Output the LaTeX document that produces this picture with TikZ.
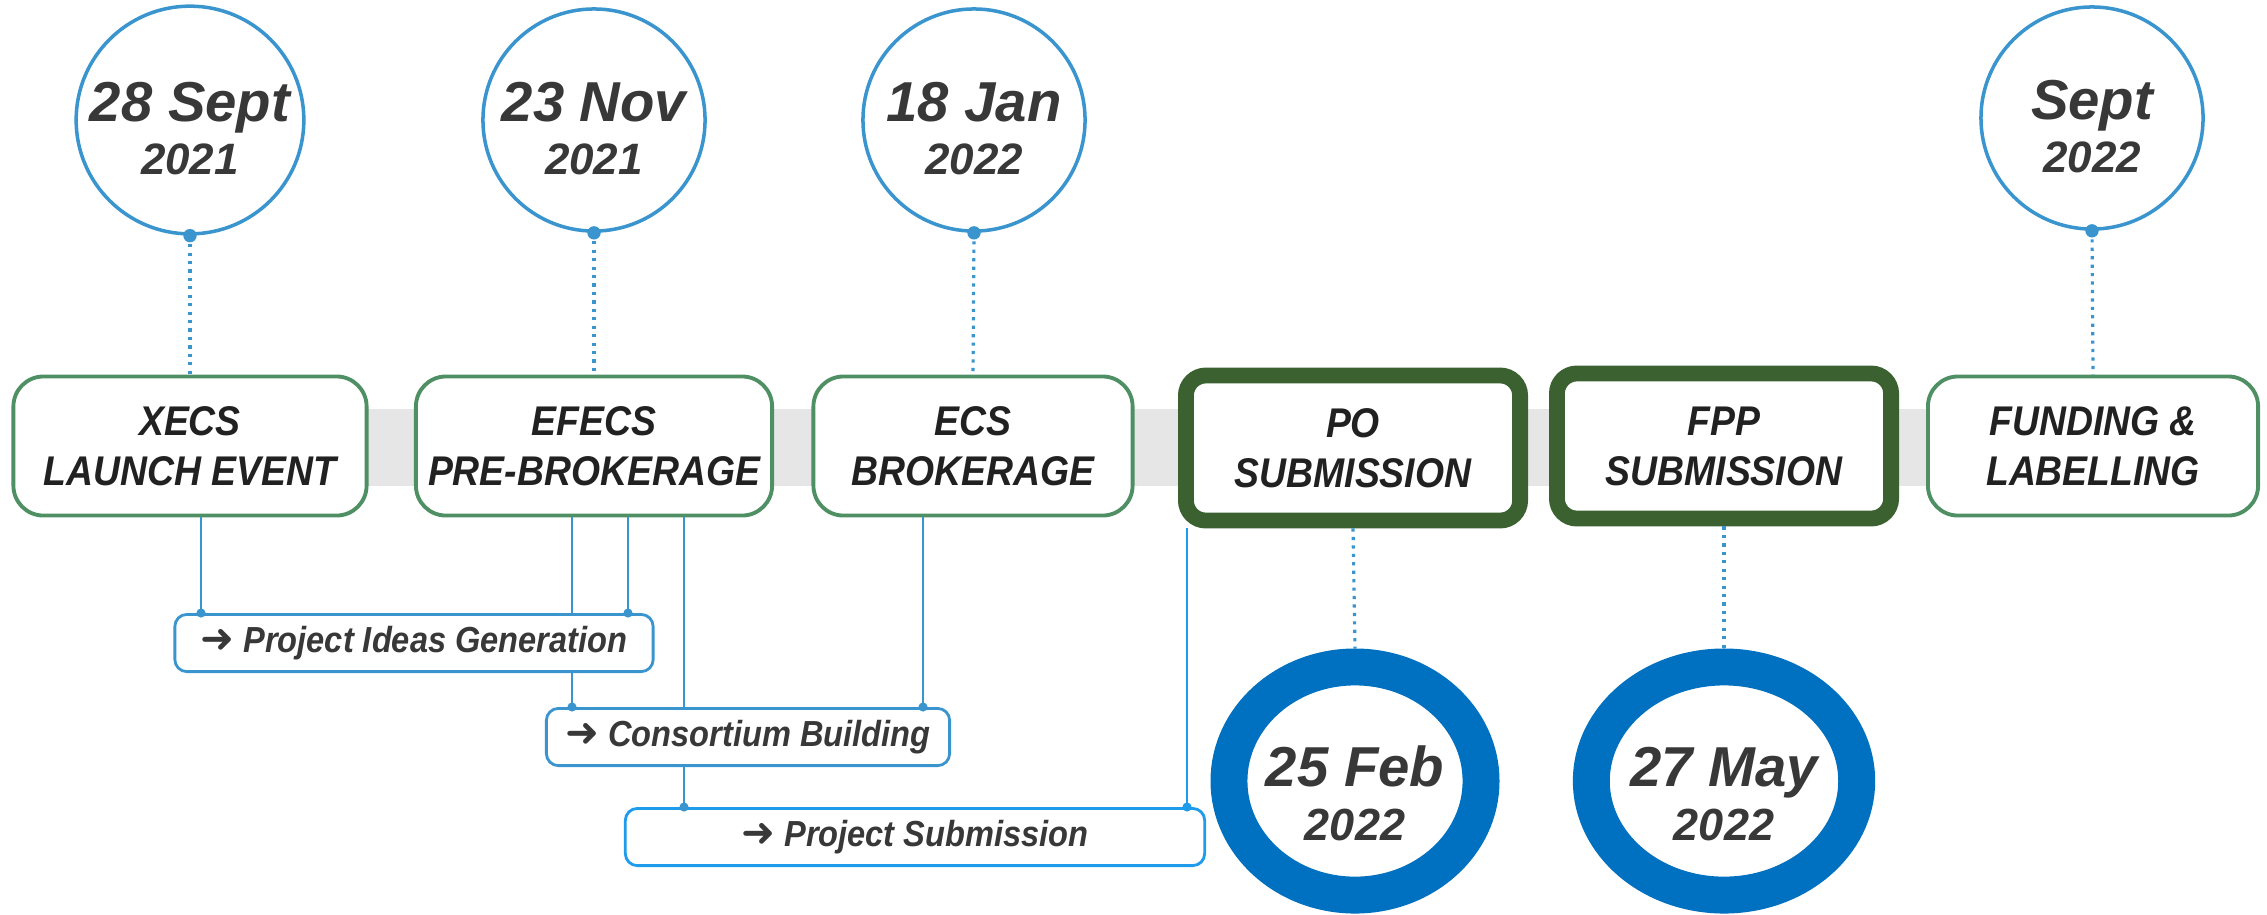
\documentclass[tikz,border=0pt]{standalone}
\usepackage{fontspec}
\setmainfont{Liberation Sans}
\newfontfamily\narrowfont[FakeStretch=0.9]{Liberation Sans}
\newfontfamily\arrowfont{DejaVu Sans}
\usetikzlibrary{shapes.geometric}

\definecolor{dateblue}{HTML}{3A95CF}
\definecolor{ringblue}{HTML}{0070C0}
\definecolor{stagegreen}{HTML}{4F8F64}
\definecolor{keygreen}{HTML}{3B6130}
\definecolor{bandgray}{HTML}{E6E6E6}
\definecolor{textgray}{HTML}{383838}
\definecolor{subblue}{HTML}{1E9BEA}

\newcommand{\bigday}[1]{{\fontsize{16}{15}\selectfont #1}}
\newcommand{\go}{{\arrowfont\normalfont\arrowfont\fontsize{11.5}{12}\selectfont ➜}}

\begin{document}
\begin{tikzpicture}[x=0.01cm, y=-0.01cm,
  date node/.style={circle, draw=dateblue, line width=1pt, fill=white, minimum size=2.22cm, inner sep=0pt, align=center, text=textgray, font=\fontsize{12.5}{15}\selectfont\bfseries\itshape, text height=31pt, text depth=0pt},
  ring node/.style={ellipse, draw=ringblue, line width=10.5pt, fill=white, minimum width=2.4cm, minimum height=2.28cm, inner sep=0pt, align=center, text=textgray, font=\fontsize{12.8}{15.5}\selectfont\bfseries\itshape, text height=34pt, text depth=0pt},
  stage node/.style={draw=stagegreen, line width=1.1pt, rounded corners=0.3cm, fill=white, minimum height=1.39cm, align=center, text=black!87, font=\narrowfont\fontsize{11.8}{14.2}\selectfont\bfseries\itshape},
  key node/.style={stage node, draw=keygreen, line width=4.5pt, rounded corners=0.2cm, minimum width=3.34cm, minimum height=1.45cm},
  task node/.style={draw=dateblue, line width=0.8pt, rounded corners=0.12cm, fill=white, minimum height=0.57cm, text=textgray, font=\narrowfont\fontsize{10.3}{12}\selectfont\bfseries\itshape},
  link/.style={draw=dateblue, line width=0.6pt},
  dot link/.style={draw=dateblue, line width=0.9pt, dash pattern=on 0.9pt off 1.5pt},
  joint/.style={fill=dateblue}
]
\useasboundingbox (0,0) rectangle (2267,914);

% grey band behind the stages
\fill[bandgray] (360,409) rectangle (1935,486);

% dates
\node[date node] (d1) at (190,120) {\bigday{28 Sept}\\2021};
\node[date node] (d2) at (594,120) {\bigday{23 Nov}\\2021};
\node[date node] (d3) at (974,120) {\bigday{18 Jan}\\2022};
\node[date node] (d4) at (2092,118) {\bigday{Sept}\\2022};

% stages
\node[stage node, minimum width=3.53cm] (xecs) at (190,446) {XECS\\LAUNCH EVENT};
\node[stage node, minimum width=3.56cm] (efecs) at (594,446) {EFECS\\PRE-BROKERAGE};
\node[stage node, minimum width=3.19cm] (ecs) at (973,446) {ECS\\BROKERAGE};
\node[key node] (po) at (1353,448) {PO\\SUBMISSION};
\node[key node] (fpp) at (1724,446) {FPP\\SUBMISSION};
\node[stage node, minimum width=3.30cm] (fund) at (2093,446) {FUNDING \&\\LABELLING};

% deadlines
\node[ring node] (r1) at (1355,781) {\bigday{25 Feb}\\2022};
\node[ring node] (r2) at (1724,781) {\bigday{27 May}\\2022};

% links to tasks
\draw[link] (xecs.south -| 201,0) -- (643,613 -| 201,0);
\draw[link] (efecs.south -| 572,0) -- (643,613 -| 572,0);
\draw[link] (efecs.south -| 628,0) -- (643,613 -| 628,0);
\draw[link] (efecs.south -| 684,0) -- (643,707 -| 684,0);
\draw[link] (ecs.south -| 923,0) -- (643,707 -| 923,0);
\draw[link] (643,673 -| 572,0) -- (643,707 -| 572,0);
\draw[link] (643,767 -| 684,0) -- (643,807 -| 684,0);
\draw[link, draw=subblue, line width=0.7pt] (po.south -| 1187,0) -- (643,807 -| 1187,0);

% tasks
\node[task node, minimum width=4.78cm] (ideas) at (414,643) {\go{} Project Ideas Generation};
\node[task node, minimum width=4.03cm] (cons) at (748,737) {\go{} Consortium Building};
\node[task node, minimum width=5.79cm, draw=subblue] (subm) at (915,837) {\go{} Project Submission};

% dotted drops
\draw[dot link] (d1.south) -- (xecs.north);
\draw[dot link] (d2.south) -- (efecs.north);
\draw[dot link] (d3.south) -- (ecs.north);
\draw[dot link] (d4.south) -- (fund.north);
\draw[dot link] (po.south) -- (r1.north);
\draw[dot link] (fpp.south) -- (r2.north);

\foreach \d in {d1,d2,d3,d4}
  \fill[joint] (\d.south) circle (1.9pt);

\fill[joint] (ideas.north -| 201,0) circle (1.3pt);
\fill[joint] (ideas.north -| 628,0) circle (1.3pt);
\fill[joint] (cons.north -| 572,0) circle (1.3pt);
\fill[joint] (cons.north -| 923,0) circle (1.3pt);
\fill[joint] (subm.north -| 684,0) circle (1.3pt);
\fill[subblue] (subm.north -| 1187,0) circle (1.3pt);

\end{tikzpicture}
\end{document}
